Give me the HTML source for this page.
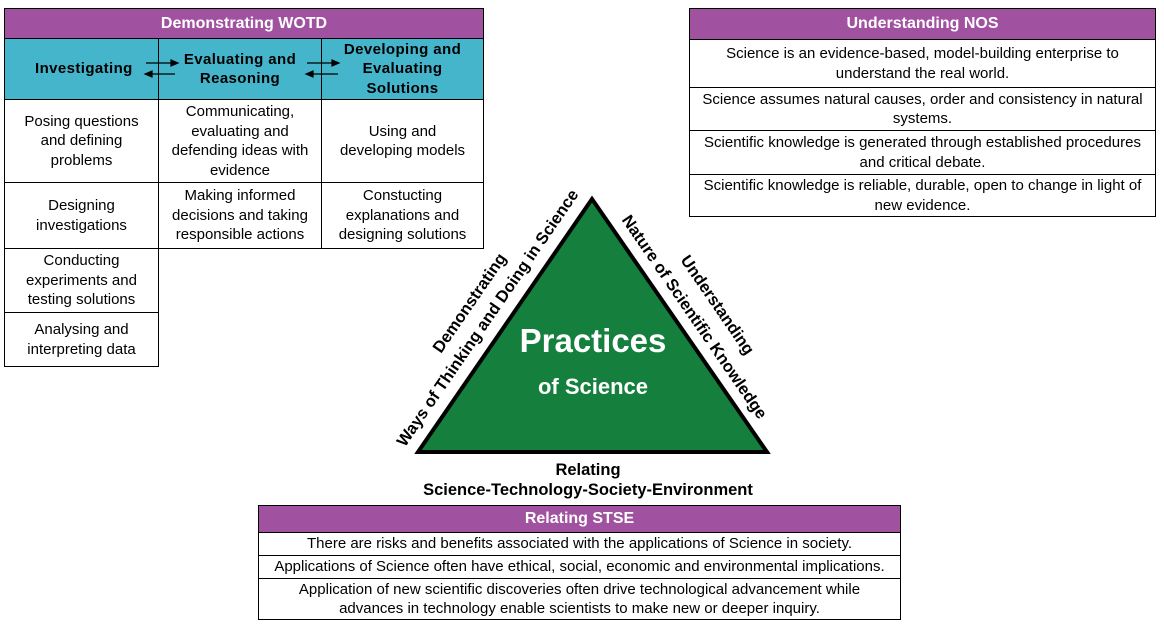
<!DOCTYPE html>
<html><head><meta charset="utf-8"><style>
body{margin:0;width:1164px;height:624px;background:#fff;position:relative;overflow:hidden;font-family:"Liberation Sans",Arial,sans-serif;color:#000}
.c{position:absolute;box-sizing:border-box;border:1px solid #000;display:flex;align-items:center;justify-content:center;text-align:center;font-size:15px;line-height:19.5px;white-space:nowrap}
.p{background:#a052a0;color:#fff;font-weight:bold;font-size:16px}
.t{background:#45b5cc;font-weight:bold;font-size:15px;letter-spacing:0.4px}
</style></head><body>
<!-- WOTD -->
<div class="c p" style="left:4px;top:8px;width:480px;height:31px">Demonstrating WOTD</div>
<div class="c t" style="left:4px;top:38px;width:155px;height:62px;justify-content:flex-start;padding-left:30px">Investigating</div>
<div class="c t" style="left:158px;top:38px;width:164px;height:62px;padding-left:0px">Evaluating and<br>Reasoning</div>
<div class="c t" style="left:321px;top:38px;width:163px;height:62px">Developing and<br>Evaluating<br>Solutions</div>
<svg style="position:absolute;left:0;top:0" width="490" height="110">
<g stroke="#000" stroke-width="1.2" fill="#000">
<line x1="146" y1="63" x2="172" y2="63"/><polygon points="178,63 171,60 171,66"/>
<line x1="152" y1="74" x2="175" y2="74"/><polygon points="145,74 152,71 152,77"/>
<line x1="307" y1="63" x2="333" y2="63"/><polygon points="339,63 332,60 332,66"/>
<line x1="312" y1="74" x2="338" y2="74"/><polygon points="306,74 313,71 313,77"/>
</g></svg>
<div class="c" style="left:4px;top:99px;width:155px;height:84px">Posing questions<br>and defining<br>problems</div>
<div class="c" style="left:158px;top:99px;width:164px;height:84px">Communicating,<br>evaluating and<br>defending ideas with<br>evidence</div>
<div class="c" style="left:321px;top:99px;width:163px;height:84px">Using and<br>developing models</div>
<div class="c" style="left:4px;top:182px;width:155px;height:67px">Designing<br>investigations</div>
<div class="c" style="left:158px;top:182px;width:164px;height:67px">Making informed<br>decisions and taking<br>responsible actions</div>
<div class="c" style="left:321px;top:182px;width:163px;height:67px">Constucting<br>explanations and<br>designing solutions</div>
<div class="c" style="left:4px;top:248px;width:155px;height:65px">Conducting<br>experiments and<br>testing solutions</div>
<div class="c" style="left:4px;top:312px;width:155px;height:55px">Analysing and<br>interpreting data</div>
<!-- NOS -->
<div class="c p" style="left:689px;top:8px;width:467px;height:32px">Understanding NOS</div>
<div class="c" style="left:689px;top:39px;width:467px;height:49px">Science is an evidence-based, model-building enterprise to<br>understand the real world.</div>
<div class="c" style="left:689px;top:87px;width:467px;height:44px">Science assumes natural causes, order and consistency in natural<br>systems.</div>
<div class="c" style="left:689px;top:130px;width:467px;height:45px">Scientific knowledge is generated through established procedures<br>and critical debate.</div>
<div class="c" style="left:689px;top:174px;width:467px;height:43px">Scientific knowledge is reliable, durable, open to change in light of<br>new evidence.</div>
<!-- STSE -->
<div class="c p" style="left:258px;top:505px;width:643px;height:28px">Relating STSE</div>
<div class="c" style="left:258px;top:532px;width:643px;height:24px">There are risks and benefits associated with the applications of Science in society.</div>
<div class="c" style="left:258px;top:555px;width:643px;height:24px">Applications of Science often have ethical, social, economic and environmental implications.</div>
<div class="c" style="left:258px;top:578px;width:643px;height:42px">Application of new scientific discoveries often drive technological advancement while<br>advances in technology enable scientists to make new or deeper inquiry.</div>
<!-- Triangle -->
<svg style="position:absolute;left:0;top:0" width="1164" height="624" font-family="Liberation Sans,Arial,sans-serif">
<polygon points="592,199 418,452 767,452" fill="#157f3e" stroke="#000" stroke-width="4" stroke-linejoin="miter"/>
<text x="593" y="352" text-anchor="middle" fill="#fff" font-weight="bold" font-size="33">Practices</text>
<text x="593" y="394" text-anchor="middle" fill="#fff" font-weight="bold" font-size="22">of Science</text>
<g font-weight="bold" font-size="16.5" text-anchor="middle">
<text transform="translate(474,306) rotate(-55.5)">Demonstrating</text>
<text transform="translate(492,321) rotate(-55.5)">Ways of Thinking and Doing in Science</text>
<text transform="translate(713,308) rotate(55.5)">Understanding</text>
<text transform="translate(690,320) rotate(55.5)">Nature of Scientific Knowledge</text>
<text x="588" y="475">Relating</text>
<text x="588" y="495">Science-Technology-Society-Environment</text>
</g>
</svg>
</body></html>
